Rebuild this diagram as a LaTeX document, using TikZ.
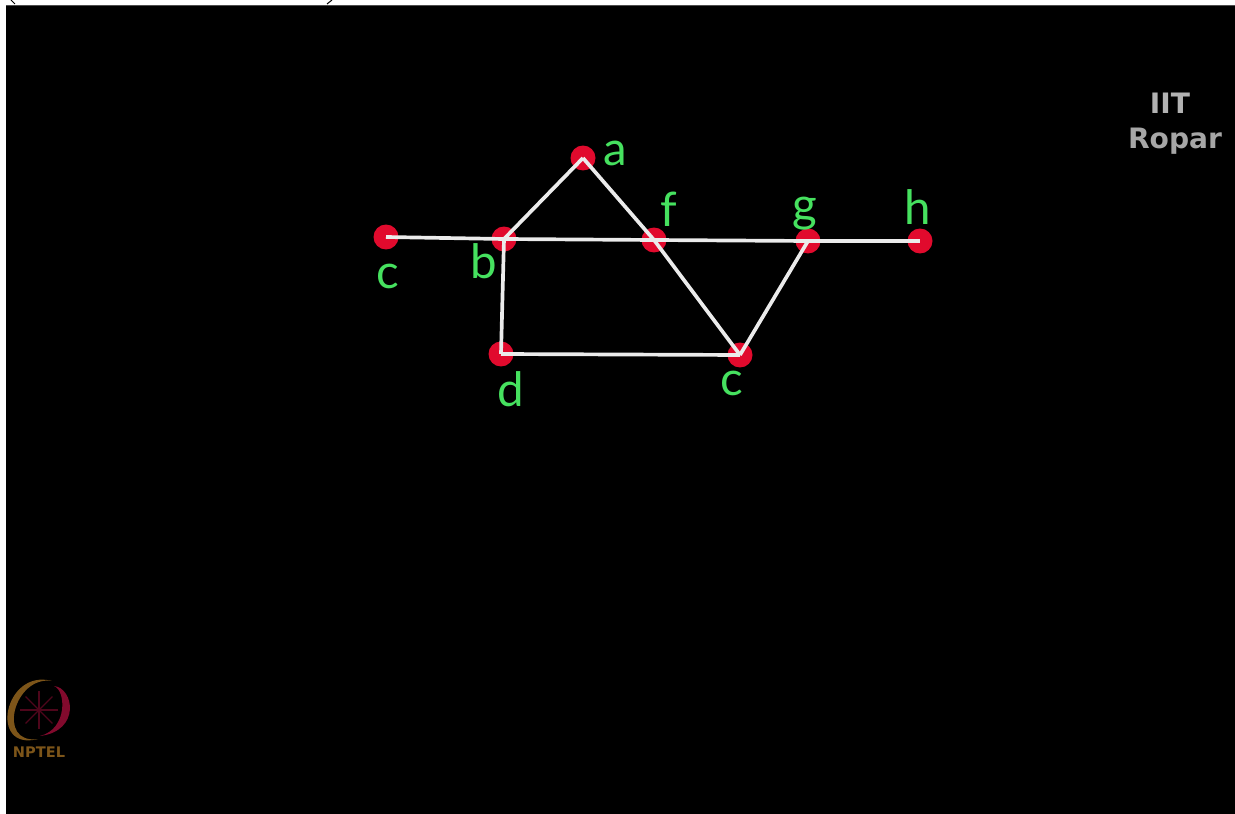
\documentclass[tikz,border=0pt]{standalone}
\usepackage{fontspec}
\setmainfont{Lato Light}[BoldFont=Lato]
\newfontfamily\markfont{DejaVu Sans}
\usetikzlibrary{positioning}
\definecolor{vertexred}{RGB}{225,10,45}
\definecolor{labelgreen}{RGB}{70,225,95}
\definecolor{logogold}{RGB}{125,85,25}
\definecolor{logored}{RGB}{130,10,45}
\tikzset{
  vertex/.style={circle,fill=vertexred,inner sep=0pt,minimum size=0.5cm},
  edge/.style={draw=white!92!black,line width=2.1pt},
  vlabel/.style={text=labelgreen,inner sep=0pt,font=\bfseries\fontsize{27}{27}\selectfont},
  mark text/.style={inner sep=0pt,font=\markfont\bfseries\fontsize{16}{16}\selectfont}
}
\begin{document}
\begin{tikzpicture}[x=0.02cm,y=-0.02cm]
  \useasboundingbox (0,0) rectangle (1235,814);
  \fill[white] (0,0) rectangle (1235,814);
  \fill[black] (6,6) rectangle (1235,814);
  \draw[black!70,line width=0.6pt] (6,5.6) -- (1235,5.6);
  % cut off brackets along the top
  \draw[black,line width=0.6pt] (11,0) -- (15,4);
  \draw[black,line width=0.6pt] (332,0) -- (327,4);
  % vertices
  \node[vertex] (a) at (583,158) {};
  \node[vertex] (b) at (504,239) {};
  \node[vertex] (cl) at (386,237) {};
  \node[vertex] (d) at (501,354) {};
  \node[vertex] (e) at (740,355) {};
  \node[vertex] (f) at (654,240) {};
  \node[vertex] (g) at (808,241) {};
  \node[vertex] (h) at (920,241) {};
  % edges
  \draw[edge] (cl.center) -- (b.center);
  \draw[edge] (b.center) -- (f.center);
  \draw[edge] (f.center) -- (g.center);
  \draw[edge] (g.center) -- (h.center);
  \draw[edge] (b.center) -- (a.center);
  \draw[edge] (a.center) -- (f.center);
  \draw[edge] (f.center) -- (e.center);
  \draw[edge] (b.center) -- (d.center);
  \draw[edge] (d.center) -- (e.center);
  \draw[edge] (e.center) -- (g.center);
  % labels
  \node[vlabel] (la) at (615,153) {a};
  \node[vlabel] (lb) at (484,261) {b};
  \node[vlabel] (lc) at (388,276) {c};
  \node[vlabel] (ld) at (511,389) {d};
  \node[vlabel] (le) at (732,383) {c};
  \node[vlabel] (lf) at (669,209) {f};
  \node[vlabel] (lg) at (805,214) {g};
  \node[vlabel] (lh) at (918,207) {h};
  % corner marks
  \node[mark text,text=black!30] (iit) at (1170,103) {IIT};
  \node[mark text,text=black!35] (ropar) at (1175,141) {Ropar};
  \fill[logogold] (52,681) .. controls (4,668) and (-12,752) .. (38,739)
    .. controls (-4,745) and (14,675) .. (52,681);
  \fill[logored] (54,686) .. controls (74,688) and (81,731) .. (40,736)
    .. controls (68,729) and (66,690) .. (54,686);
  \foreach \ang in {0,45,...,315}
    \draw[logored!60!black,line width=0.8pt] (39,710) -- ++(\ang:19);
  \node[mark text,text=logogold,font=\markfont\bfseries\fontsize{8.3}{8}\selectfont] (nptel) at (39,752) {NPTEL};
\end{tikzpicture}
\end{document}
